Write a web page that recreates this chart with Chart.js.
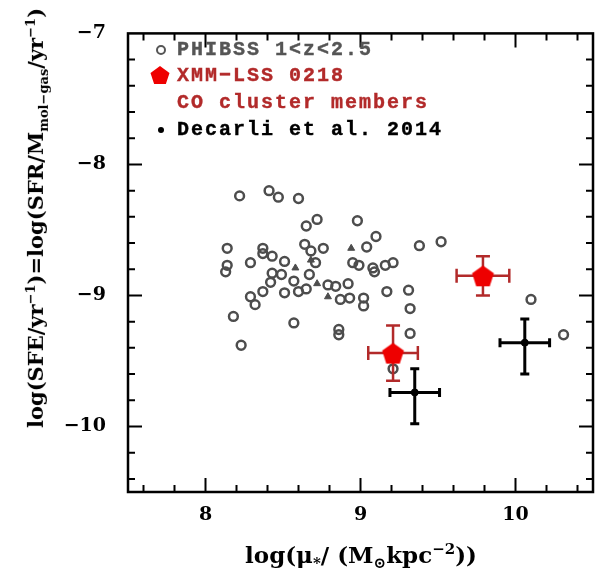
<!DOCTYPE html>
<html>
<head>
<meta charset="utf-8">
<script src="https://cdn.jsdelivr.net/npm/chart.js@4/dist/chart.umd.min.js"></script>
<style>
  body { margin: 0; background: #fff; }
  #wrap { position: relative; width: 606px; height: 569px; }
  .leg { position: absolute; left: 177px; font: bold 20px "Liberation Mono", monospace; letter-spacing: 2px; line-height: 20px; white-space: nowrap; -webkit-text-stroke: 0.4px currentColor; }
  .title { position: absolute; font: bold 21px "DejaVu Serif", serif; white-space: nowrap; color: #000; }
  .title sub, .title sup { font-size: 13px; }
  #ytitle { left: 37px; top: 218px; transform: translate(-50%, -50%) rotate(-90deg); }
  #xtitle { left: 361px; top: 556px; transform: translate(-50%, -50%); font-size: 23px; }
  #xtitle sub, #xtitle sup { font-size: 15px; }
</style>
</head>
<body>
<div id="wrap">
  <canvas id="chart" width="606" height="569"></canvas>
  <div class="leg" style="top:40px;color:#555">PHIBSS 1&lt;z&lt;2.5</div>
  <div class="leg" style="top:66px;color:#b22a2a">XMM−LSS 0218</div>
  <div class="leg" style="top:93px;color:#b22a2a">CO cluster members</div>
  <div class="leg" style="top:120px;color:#000">Decarli et al. 2014</div>
  <div class="title" id="ytitle">log(SFE/yr<sup>−1</sup>)=log(SFR/M<sub>mol−gas</sub>/yr<sup>−1</sup>)</div>
  <div class="title" id="xtitle">log(μ<sub>*</sub>/ (M<sub>⊙</sub>kpc<sup>−2</sup>))</div>
</div>
<script>
// PHIBSS 1<z<2.5, open circles
const phibssX = [8.22, 8.41, 8.47, 8.60, 8.72, 8.65, 8.14, 8.37, 8.37, 8.43, 8.29, 8.51, 8.64, 8.68,
  8.14, 8.13, 8.43, 8.49, 8.57, 8.67, 8.71, 8.42, 8.37, 8.29, 8.32, 8.51, 8.60, 8.65, 8.18, 8.57,
  8.23, 8.98, 9.10, 9.04, 9.38, 9.52, 8.76, 8.95, 8.99, 9.08, 9.09, 9.16, 9.21, 8.92, 8.79, 8.84,
  9.17, 9.31, 9.32, 8.87, 8.93, 9.02, 9.02, 8.86, 8.86, 9.32, 9.21, 10.10, 10.31];
const phibssY = [-8.24, -8.20, -8.25, -8.26, -8.42, -8.47, -8.64, -8.64, -8.68, -8.70, -8.75, -8.74, -8.61, -8.66,
  -8.77, -8.82, -8.83, -8.84, -8.89, -8.84, -8.75, -8.90, -8.97, -9.01, -9.07, -8.98, -8.97, -8.95, -9.16, -9.21,
  -9.38, -8.43, -8.55, -8.63, -8.62, -8.59, -8.64, -8.75, -8.77, -8.79, -8.82, -8.77, -8.75, -8.91, -8.92, -8.93,
  -8.97, -8.96, -9.10, -9.03, -9.02, -9.02, -9.08, -9.26, -9.30, -9.29, -9.56, -9.03, -9.30];
// PHIBSS, filled triangles
const phibssTriX = [8.58, 8.72, 8.94, 8.79, 8.68];
const phibssTriY = [-8.79, -8.91, -8.64, -9.01, -8.73];
// XMM-LSS 0218 CO cluster members
const xmmX = [9.21, 9.79];
const xmmY = [-9.44, -8.85];
const xmmXErr = [0.16, 0.17];
const xmmYErr = [0.21, 0.15];
// Decarli et al. 2014
const decX = [9.35, 10.06];
const decY = [-9.74, -9.36];
const decXErr = [0.16, 0.16];
const decYErrUp = [0.18, 0.18];
const decYErrDown = [0.24, 0.24];
// axis ticks
const xTicks = [8, 9, 10];
const yTicks = [-10, -9, -8, -7];

function pts(xs, ys) { return xs.map((v, i) => ({ x: v, y: ys[i] })); }

function makePentagon(r, fill) {
  const c = document.createElement('canvas');
  const s = Math.ceil(r * 2 + 2);
  c.width = s; c.height = s;
  const g = c.getContext('2d');
  g.beginPath();
  for (let i = 0; i < 5; i++) {
    const a = -Math.PI / 2 + i * 2 * Math.PI / 5;
    const px = s / 2 + r * Math.cos(a), py = s / 2 + r * Math.sin(a) + r * 0.1;
    if (i) g.lineTo(px, py); else g.moveTo(px, py);
  }
  g.closePath();
  g.fillStyle = fill;
  g.fill();
  return c;
}
const pentagon = makePentagon(11.5, '#ee0000');
const smallPentagon = makePentagon(10, '#ee0000');

function drawErr(ctx, x, y, xv, yv, xe, yUp, yDn, color, lw, capX, capY) {
  ctx.strokeStyle = color;
  ctx.lineWidth = lw;
  const cx = x.getPixelForValue(xv), cy = y.getPixelForValue(yv);
  const l = x.getPixelForValue(xv - xe), r = x.getPixelForValue(xv + xe);
  const t = y.getPixelForValue(yv + yUp), b = y.getPixelForValue(yv - yDn);
  ctx.beginPath();
  ctx.moveTo(l, cy); ctx.lineTo(r, cy);
  ctx.moveTo(cx, t); ctx.lineTo(cx, b);
  ctx.moveTo(l, cy - capX); ctx.lineTo(l, cy + capX);
  ctx.moveTo(r, cy - capX); ctx.lineTo(r, cy + capX);
  ctx.moveTo(cx - capY, t); ctx.lineTo(cx + capY, t);
  ctx.moveTo(cx - capY, b); ctx.lineTo(cx + capY, b);
  ctx.stroke();
}

// error bars go in after the grey points, before the red and black ones
const errorBars = {
  id: 'errorBars',
  afterDatasetDraw(chart, args) {
    if (args.index !== 2) return;
    const { ctx, scales: { x, y } } = chart;
    ctx.save();
    xmmX.forEach((v, i) => drawErr(ctx, x, y, v, xmmY[i], xmmXErr[i], xmmYErr[i], xmmYErr[i], '#b22a2a', 2.5, 7, 7));
    decX.forEach((v, i) => drawErr(ctx, x, y, v, decY[i], decXErr[i], decYErrUp[i], decYErrDown[i], '#000', 3, 4.5, 4.5));
    ctx.restore();
  }
};

// box with inward ticks on all four sides, minor every 0.2
const frame = {
  id: 'frame',
  afterDraw(chart) {
    const { ctx, chartArea: a, scales: { x, y } } = chart;
    ctx.save();
    ctx.strokeStyle = '#000';
    ctx.lineWidth = 2;
    ctx.beginPath();
    for (let k = 76; k <= 104; k += 2) {
      const v = k / 10;
      const px = x.getPixelForValue(v);
      const len = k % 10 === 0 ? 14 : 7;
      ctx.moveTo(px, a.bottom); ctx.lineTo(px, a.bottom - len);
      ctx.moveTo(px, a.top); ctx.lineTo(px, a.top + len);
    }
    for (let k = -104; k <= -72; k += 2) {
      const v = k / 10;
      const py = y.getPixelForValue(v);
      const len = k % 10 === 0 ? 14 : 7;
      ctx.moveTo(a.left, py); ctx.lineTo(a.left + len, py);
      ctx.moveTo(a.right, py); ctx.lineTo(a.right - len, py);
    }
    ctx.stroke();
    ctx.lineWidth = 2.5;
    ctx.strokeRect(a.left, a.top, a.right - a.left, a.bottom - a.top);

    // legend markers
    ctx.strokeStyle = '#555';
    ctx.lineWidth = 2;
    ctx.beginPath(); ctx.arc(161, 50, 4, 0, Math.PI * 2); ctx.stroke();
    ctx.drawImage(smallPentagon, 160 - smallPentagon.width / 2, 75 - smallPentagon.height / 2);
    ctx.fillStyle = '#000';
    ctx.beginPath(); ctx.arc(161, 130, 3, 0, Math.PI * 2); ctx.fill();
    ctx.restore();
  }
};

const tickFont = { family: 'DejaVu Serif', size: 19, weight: 'bold' };

new Chart(document.getElementById('chart'), {
  type: 'scatter',
  data: {
    datasets: [
      {
        label: 'XMM-LSS 0218',
        data: pts(xmmX, xmmY),
        pointStyle: pentagon,
        pointRadius: 11,
        clip: false
      },
      {
        label: 'Decarli et al. 2014',
        data: pts(decX, decY),
        backgroundColor: '#000',
        borderColor: '#000',
        pointRadius: 3.5,
        clip: false
      },
      {
        label: 'PHIBSS triangles',
        data: pts(phibssTriX, phibssTriY),
        pointStyle: 'triangle',
        backgroundColor: '#4d4d4d',
        borderColor: '#4d4d4d',
        borderWidth: 1,
        pointRadius: 4
      },
      {
        label: 'PHIBSS 1<z<2.5',
        data: pts(phibssX, phibssY),
        backgroundColor: 'rgba(0,0,0,0)',
        borderColor: '#4d4d4d',
        borderWidth: 2.5,
        pointRadius: 4.4
      }
    ]
  },
  options: {
    responsive: false,
    animation: false,
    layout: { padding: { left: 0, top: 22, right: 13, bottom: 0 } },
    plugins: {
      legend: { display: false },
      tooltip: { enabled: false }
    },
    scales: {
      x: {
        type: 'linear',
        min: 7.5,
        max: 10.5,
        afterBuildTicks: (scale) => { scale.ticks = xTicks.map(v => ({ value: v })); },
        afterFit: (scale) => { scale.height = 77; },
        grid: { display: false, drawTicks: false },
        border: { display: false },
        ticks: { color: '#000', font: tickFont, padding: 12, maxRotation: 0 }
      },
      y: {
        type: 'linear',
        min: -10.5,
        max: -7,
        afterBuildTicks: (scale) => { scale.ticks = yTicks.map(v => ({ value: v })); },
        afterFit: (scale) => { scale.width = 128; },
        grid: { display: false, drawTicks: false },
        border: { display: false },
        ticks: {
          color: '#000',
          font: tickFont,
          padding: 22,
          callback: (v) => String(v).replace('-', '\u2212')
        }
      }
    }
  },
  plugins: [errorBars, frame]
});
</script>
</body>
</html>
